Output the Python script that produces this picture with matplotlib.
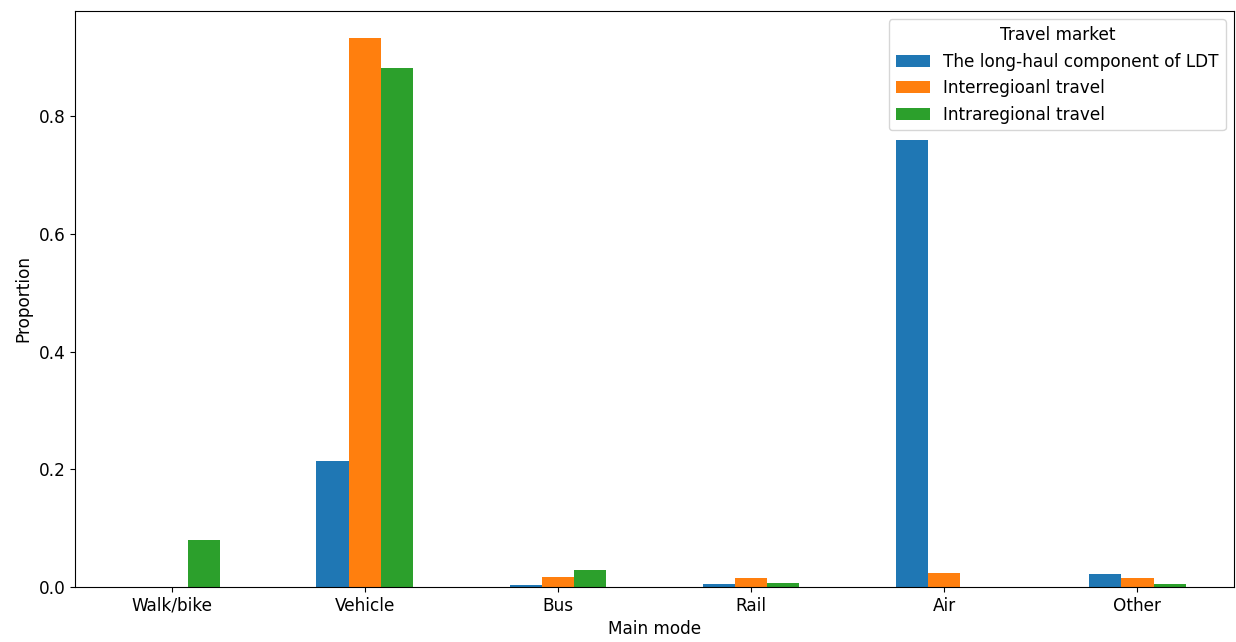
import matplotlib.pyplot as plt
import numpy as np

modes = ["Walk/bike", "Vehicle", "Bus", "Rail", "Air", "Other"]
series_names = ["The long-haul component of LDT", "Interregioanl travel", "Intraregional travel"]
long_haul = [0.0, 0.2135, 0.003, 0.0046, 0.760, 0.0216]
interregional = [0.0, 0.9325, 0.017, 0.0148, 0.0233, 0.0148]
intraregional = [0.0805, 0.8815, 0.0295, 0.0063, 0.0, 0.0046]

colors = ["#1f77b4", "#ff7f0e", "#2ca02c"]

plt.rcParams["font.size"] = 12.2

fig, ax = plt.subplots(figsize=(12.36, 6.42), dpi=100)
x = np.arange(len(modes))
w = 0.5 / 3
for i, (vals, name) in enumerate(zip([long_haul, interregional, intraregional], series_names)):
    ax.bar(x + (i - 1) * w, vals, width=w, color=colors[i], label=name)

ax.set_xticks(x)
ax.set_xticklabels(modes)
ax.set_xlim(-0.5, len(modes) - 0.5)
ax.set_xlabel("Main mode")
ax.set_ylabel("Proportion")
ax.legend(title="Travel market", loc="upper right")

plt.subplots_adjust(left=0.0607, right=0.9984, top=0.983, bottom=0.0857)
plt.savefig("out.png", dpi=100)
